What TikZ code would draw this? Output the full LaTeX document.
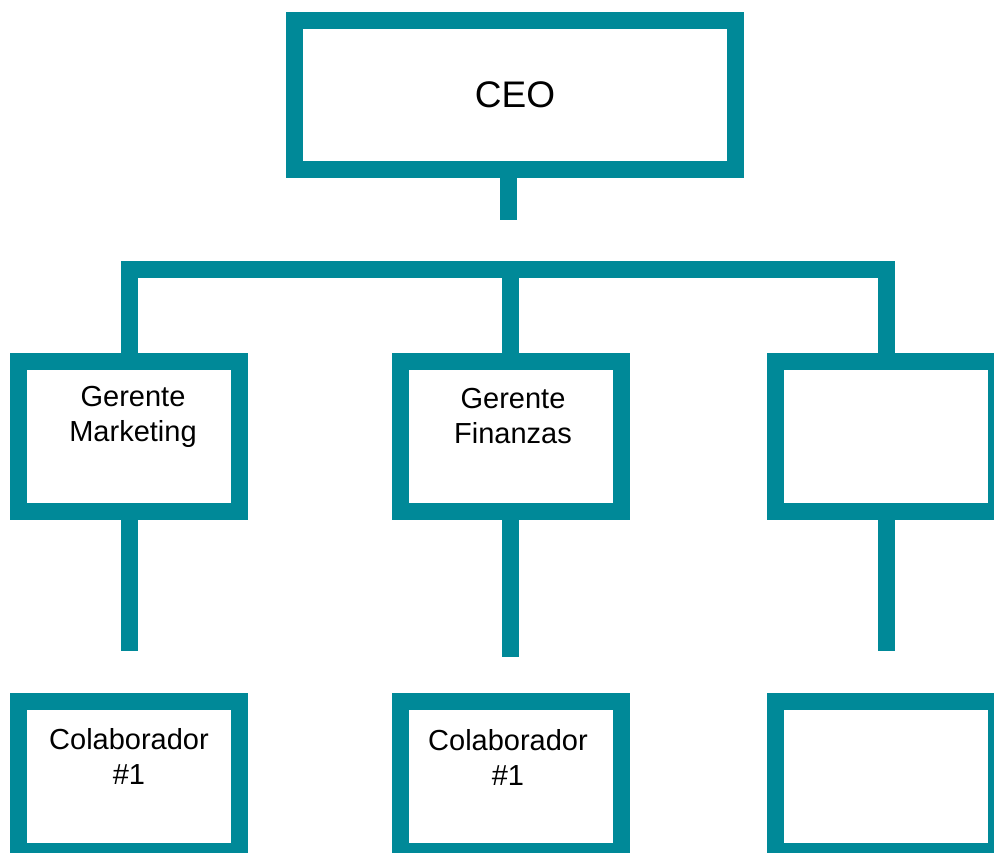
\documentclass[tikz,border=0pt]{standalone}
\usepackage{fontspec}
\setmainfont{Liberation Sans}
\usetikzlibrary{positioning}
\definecolor{verdeazul}{RGB}{0,137,152}
\tikzset{
  caja/.style={draw=verdeazul, line width=17pt, minimum width=221pt, minimum height=150pt,
    inner sep=0pt, outer sep=0pt},
  linea/.style={draw=verdeazul, line width=17pt, line cap=butt, line join=miter},
  texto/.style={align=center, inner sep=0pt, font=\fontsize{29}{35}\selectfont}
}
\begin{document}
\begin{tikzpicture}[x=1pt,y=-1pt]
  \useasboundingbox (0,0) rectangle (994,853);
  \clip (0,0) rectangle (994,853);

  % nivel 1
  \node[caja, minimum width=441pt, minimum height=149pt,
    font=\fontsize{37}{40}\selectfont] (ceo) at (515,95) {CEO};

  % nivel 2
  \node[caja] (gMarketing) at (129,436.5) {};
  \node[caja] (gFinanzas) at (510.5,436.5) {};
  \node[caja] (gOtro) at (886,436.5) {};
  \node[texto, below=25pt of gMarketing.north, xshift=4pt] {Gerente\\Marketing};
  \node[texto, below=27pt of gFinanzas.north, xshift=2.5pt] {Gerente\\Finanzas};

  % nivel 3
  \node[caja] (colab1) at (129,776.5) {};
  \node[caja] (colab2) at (510.5,776.5) {};
  \node[caja] (colab3) at (886,776.5) {};
  \node[texto, below=27pt of colab1.north] {Colaborador\\\#1};
  \node[texto, below=28pt of colab2.north, xshift=-2.5pt] {Colaborador\\\#1};

  % conectores
  \coordinate (ceoBajo) at (508,220);
  \coordinate (bus) at (510.5,270);
  \coordinate (finMarketing) at (129,651);
  \coordinate (finFinanzas) at (510.5,657);
  \coordinate (finOtro) at (886,651);

  \draw[linea] (ceo.south -| ceoBajo) -- (ceoBajo);
  \draw[linea] (gMarketing.north) |- (bus) -| (gOtro.north);
  \draw[linea] (gFinanzas.north) -- (gFinanzas.north |- bus);
  \draw[linea] (gMarketing.south) -- (finMarketing);
  \draw[linea] (gFinanzas.south) -- (finFinanzas);
  \draw[linea] (gOtro.south) -- (finOtro);
\end{tikzpicture}
\end{document}
